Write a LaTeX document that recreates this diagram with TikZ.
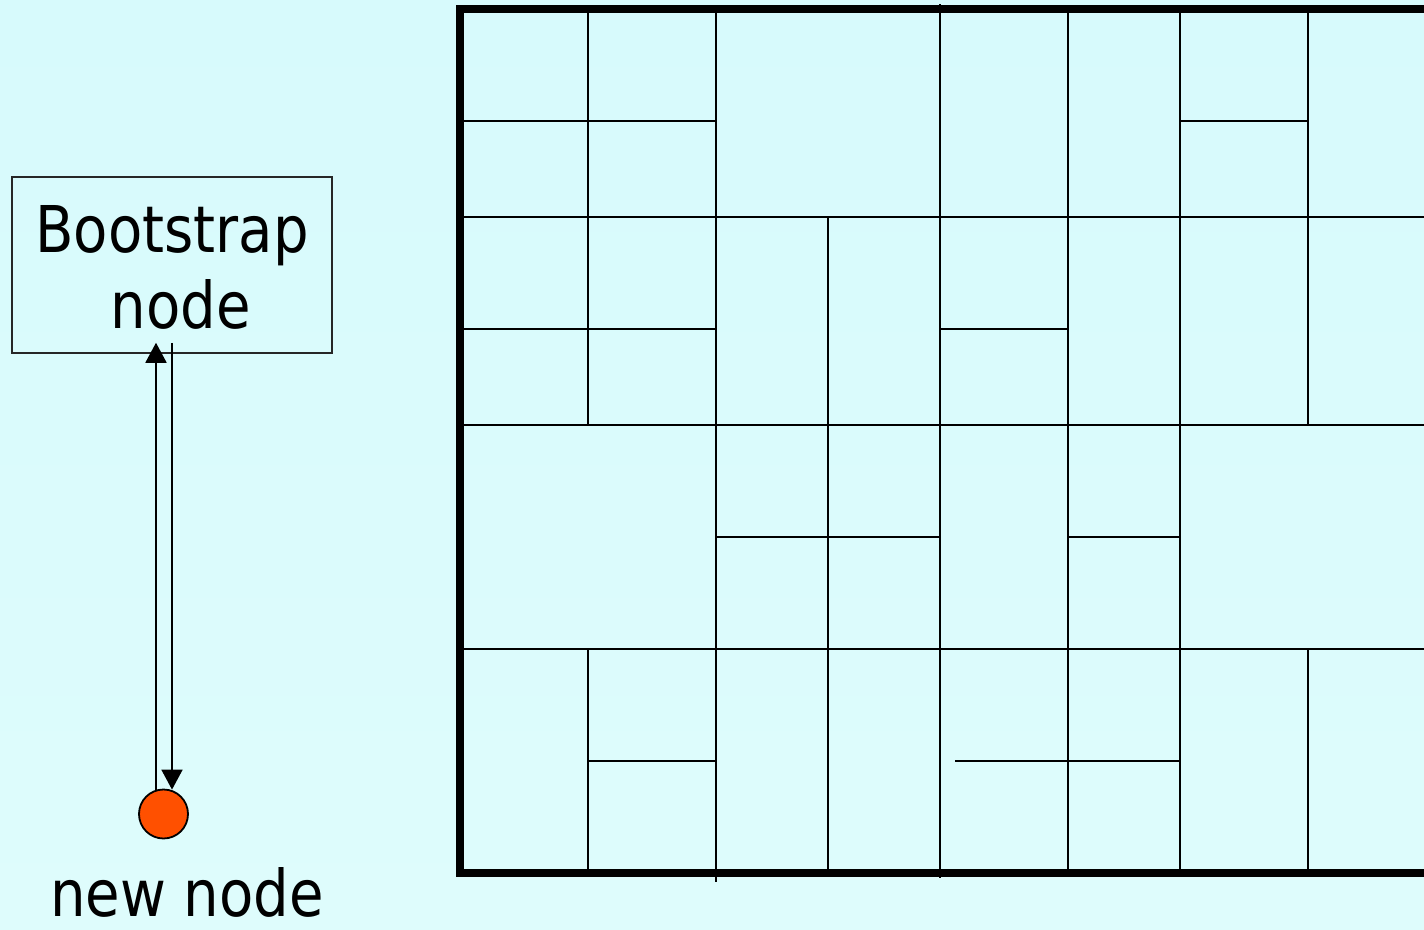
\documentclass[tikz,border=0pt]{standalone}
\usepackage{fontspec}
\setmainfont{DejaVu Sans}[FakeStretch=0.87]
\usetikzlibrary{arrows.meta}
\definecolor{bgc}{RGB}{215,250,252}
\definecolor{bgc2}{RGB}{222,252,252}
\definecolor{dotc}{RGB}{255,80,0}
\tikzset{
  grid line/.style={line width=2pt, black},
  frame line/.style={line width=8pt, black, line cap=butt},
  boxstyle/.style={draw=black!85, line width=1.5pt, minimum width=320pt, minimum height=176pt,
    inner sep=0pt},
  labelstyle/.style={inner sep=0pt, font=\fontsize{64.5}{76}\selectfont},
  arr/.style={line width=1.8pt, -{Triangle[length=20pt,width=21pt]}},
}
\begin{document}
\begin{tikzpicture}[x=1pt,y=-1pt]
\useasboundingbox (0,0) rectangle (1424,929);
\shade[top color=bgc, bottom color=bgc2] (0,0) rectangle (1424,929);

% Bootstrap box
\node[boxstyle] (boot) at (172,265) {};
\node[labelstyle, align=center, anchor=base] (boottxt) at (172,328) {Bootstrap\\\hspace*{17pt}node};
% new node dot
\node[circle, draw=black, line width=1.8pt, fill=dotc, minimum size=49pt, inner sep=0pt] (dot) at (163.5,814) {};
\node[labelstyle, anchor=base] (lbl) at (187,916) {new node};

% arrows
\draw[arr] ([xshift=-7.5pt,yshift=-1pt]dot.north) -- ([xshift=-16pt,yshift=11pt]boot.south);
\draw[arr] ([yshift=11pt]boot.south) -- ([xshift=8.5pt,yshift=-1pt]dot.north);

% grid: vertical lines
\draw[grid line] (588,9) -- (588,425);
\draw[grid line] (588,649) -- (588,873);
\draw[grid line] (716,9) -- (716,882);
\draw[grid line] (828,217) -- (828,873);
\draw[grid line] (940,4) -- (940,878);
\draw[grid line] (1068,9) -- (1068,873);
\draw[grid line] (1180,9) -- (1180,873);
\draw[grid line] (1308,9) -- (1308,425);
\draw[grid line] (1308,649) -- (1308,873);
% grid: horizontal lines
\draw[grid line] (460,121) -- (716,121);
\draw[grid line] (1180,121) -- (1308,121);
\draw[grid line] (460,217) -- (1430,217);
\draw[grid line] (460,329) -- (716,329);
\draw[grid line] (940,329) -- (1068,329);
\draw[grid line] (460,425) -- (1430,425);
\draw[grid line] (716,537) -- (940,537);
\draw[grid line] (1068,537) -- (1180,537);
\draw[grid line] (460,649) -- (1430,649);
\draw[grid line] (588,761) -- (716,761);
\draw[grid line] (955,761) -- (1180,761);
% outer frame
\draw[frame line, line join=miter] (1430,9) -- (460,9) -- (460,873) -- (1430,873);
\end{tikzpicture}
\end{document}
